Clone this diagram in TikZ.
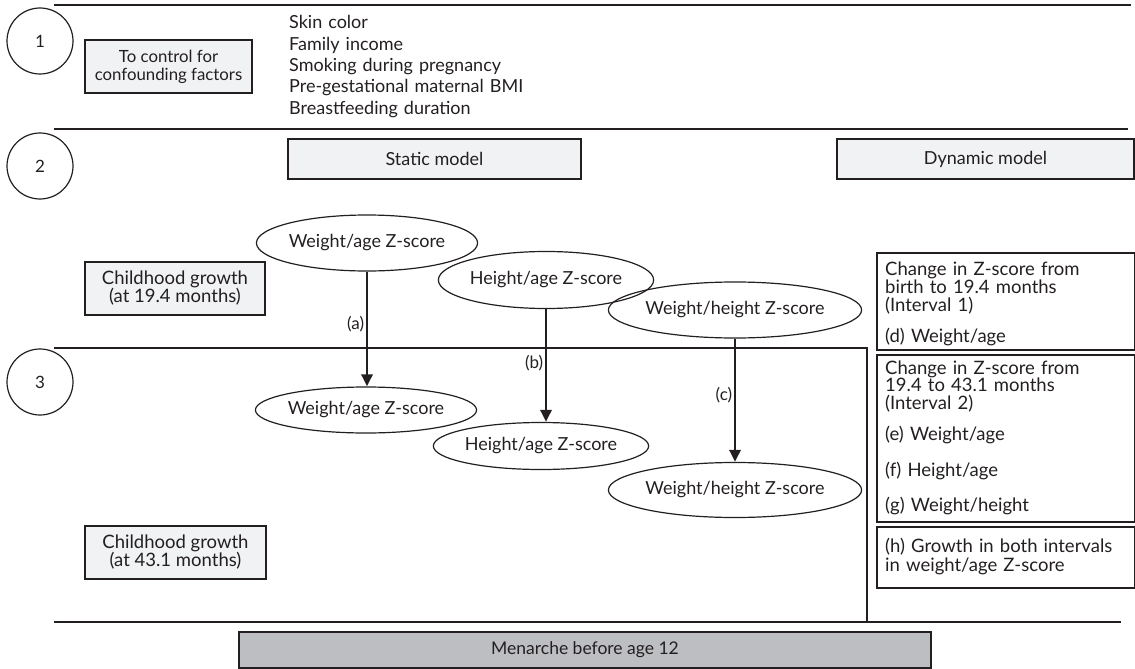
\documentclass[tikz,border=0pt]{standalone}
\usepackage{fontspec}
\setmainfont{Lato}
\usetikzlibrary{shapes.geometric,arrows.meta}
\definecolor{ink}{HTML}{231F20}
\definecolor{lightfill}{HTML}{F1F2F4}
\definecolor{darkfill}{HTML}{BDBEC1}
\newcommand{\fsz}[2]{\fontsize{#1}{#2}\selectfont\lineskiplimit=-20pt\relax}
\begin{document}
\begin{tikzpicture}[x=1pt,y=-1pt,
  every node/.style={font=\fsz{18}{18}, text=ink},
  graybox/.style={draw=ink, line width=1.3pt, fill=lightfill, inner sep=0pt, align=center},
  darkbox/.style={draw=ink, line width=1.5pt, fill=darkfill, inner sep=0pt, align=center},
  plainbox/.style={draw=ink, line width=1.3pt, inner sep=0pt},
  oval/.style={ellipse, draw=ink, line width=1.2pt, inner sep=0pt},
  num/.style={circle, draw=ink, line width=1.2pt, minimum size=66pt, inner sep=0pt, font=\fsz{17}{17}},
  sep/.style={draw=ink, line width=1.5pt},
  arr/.style={draw=ink, line width=2.8pt, -{Triangle[length=12pt,width=11pt]}},
  lbl/.style={left, inner sep=1.5pt, font=\fsz{17}{17}},
  boxtext/.style={anchor=base west, align=left, text width=245pt, inner sep=0pt}
]
\useasboundingbox (0,0) rectangle (1135,669);

% separator lines
\draw[sep] (54,5) -- (1131,5);
\draw[sep] (54,129) -- (1128,129);
\draw[sep] (54,348) -- (867,348) -- (867,622);
\draw[sep] (54,622) -- (1121,622);

% numbered circles
\node[num] (n1) at (40,41) {1};
\node[num] (n2) at (40,166) {2};
\node[num] (n3) at (40,382) {3};

% section 1
\node[graybox, minimum width=167pt, minimum height=53pt, font=\fsz{16.8}{18}] (ctrl) at (168.5,66.5) {To control for\\confounding factors};
\node[anchor=base west, align=left, text width=260pt, inner sep=0pt, font=\fsz{18}{21.3}] (conf) at (289,29)
  {Skin color\\Family income\\Smoking during pregnancy\\Pre-gestational maternal BMI\\Breastfeeding duration};

% section 2 headers
\node[graybox, minimum width=293pt, minimum height=40pt] (static) at (434.5,159) {Static model};
\node[graybox, minimum width=297pt, minimum height=40pt] (dynamic) at (985.5,159) {Dynamic model};

% childhood growth boxes
\node[graybox, minimum width=180pt, minimum height=53pt, font=\fsz{18.5}{18}] (cg1) at (175,288.5) {Childhood growth\\(at 19.4 months)};
\node[graybox, minimum width=181pt, minimum height=53pt, font=\fsz{18.5}{18}] (cg2) at (175.5,552.5) {Childhood growth\\(at 43.1 months)};

% ellipses
\node[oval, minimum width=208pt, minimum height=56pt] (wa1) at (367,243) {Weight/age Z-score};
\node[oval, minimum width=190pt, minimum height=57pt] (ha1) at (546,280) {Height/age Z-score};
\node[oval, minimum width=207pt, minimum height=56pt] (wh1) at (735,310) {Weight/height Z-score};
\node[oval, minimum width=207pt, minimum height=46pt] (wa2) at (366,410) {Weight/age Z-score};
\node[oval, minimum width=198pt, minimum height=47pt] (ha2) at (541,446) {Height/age Z-score};
\node[oval, minimum width=207pt, minimum height=55pt] (wh2) at (735,490) {Weight/height Z-score};

% arrows
\draw[arr] (wa1.south) -- node[lbl, pos=0.46] {(a)} (wa1.south |- wa2.north);
\draw[arr] (ha1.south) -- node[lbl, pos=0.48] {(b)} (ha1.south |- ha2.north);
\draw[arr] (wh1.south) -- node[lbl, pos=0.46] {(c)} (wh1.south |- wh2.north);

% dynamic model boxes
\node[plainbox, minimum width=258pt, minimum height=97pt] (d1) at (1006,301.5) {};
\node[boxtext, font=\fsz{18.5}{18}] (d1t) at (885,275) {Change in Z-score from\\birth to 19.4 months\\(Interval 1)\\[13pt](d) Weight/age};
\node[plainbox, minimum width=258pt, minimum height=167pt] (d2) at (1006,438.5) {};
\node[boxtext, font=\fsz{18.5}{17.5}] (d2t) at (885,374) {Change in Z-score from\\19.4 to 43.1 months\\(Interval 2)\\[14pt](e) Weight/age\\[18pt](f) Height/age\\[18pt](g) Weight/height};
\node[plainbox, minimum width=258pt, minimum height=61pt] (d3) at (1006,557.5) {};
\node[boxtext, font=\fsz{18.5}{19}] (d3t) at (885,552) {(h) Growth in both intervals\\in weight/age Z-score};

% outcome
\node[darkbox, minimum width=692pt, minimum height=36pt, font=\fsz{17.5}{18}] (men) at (585,650) {Menarche before age 12};
\end{tikzpicture}
\end{document}
